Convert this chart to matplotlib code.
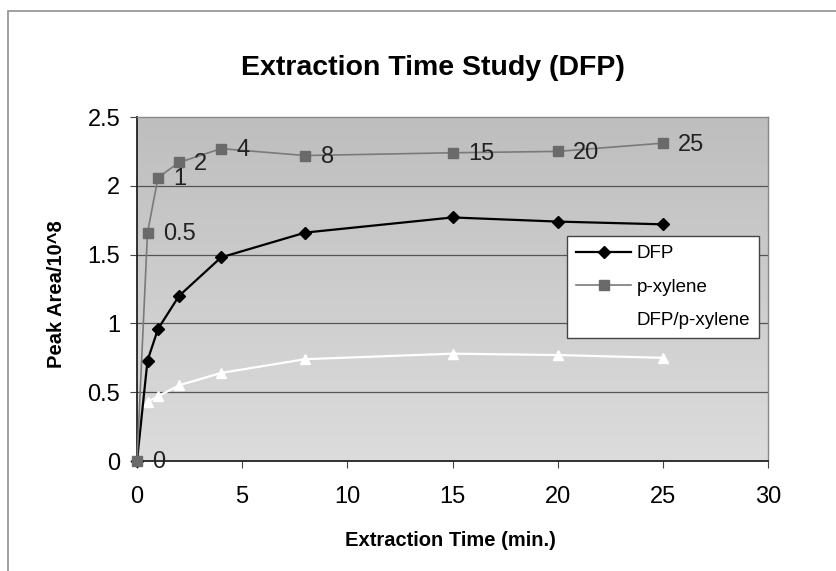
import matplotlib
matplotlib.use("Agg")
import matplotlib.pyplot as plt
import numpy as np
from matplotlib.patches import Rectangle

plt.rcParams['font.family'] = ['Liberation Sans', 'DejaVu Sans']

time = [0, 0.5, 1, 2, 4, 8, 15, 20, 25]
dfp = [0, 0.73, 0.96, 1.20, 1.48, 1.66, 1.77, 1.74, 1.72]
pxylene = [0, 1.66, 2.06, 2.17, 2.27, 2.22, 2.24, 2.25, 2.31]
ratio_time = [0.5, 1, 2, 4, 8, 15, 20, 25]
ratio = [0.43, 0.47, 0.55, 0.64, 0.74, 0.78, 0.77, 0.75]
point_labels = ["0", "0.5", "1", "2", "4", "8", "15", "20", "25"]

fig = plt.figure(figsize=(8.36, 5.71), dpi=100)
fig.patch.set_facecolor('white')
fig.add_artist(Rectangle((8/836, -0.05), 1.0, 1 - 11/571 + 0.05, transform=fig.transFigure,
                         fill=False, edgecolor='#909090', linewidth=1.2))

ax = fig.add_axes([137/836, 1 - 461/571, (768 - 137)/836, (461 - 117)/571])
ax.set_xlim(0, 30)
ax.set_ylim(0, 2.5)

grad = np.linspace(0, 1, 256).reshape(-1, 1)
ax.imshow(grad, extent=[0, 30, 0, 2.5], aspect='auto', cmap=matplotlib.colors.LinearSegmentedColormap.from_list(
    'g', ['#dcdcdc', '#bebebe']), origin='lower', zorder=0)

for yv in [0.5, 1, 1.5, 2]:
    ax.axhline(yv, color='#555555', linewidth=0.9, zorder=1)

ax.plot(time, dfp, color='black', marker='D', markersize=6.5, linewidth=1.6, label='DFP', zorder=4,
        clip_on=False)
ax.plot(time, pxylene, color='#7a7a7a', marker='s', markersize=6.5, markerfacecolor='#6a6a6a',
        markeredgecolor='#6a6a6a', linewidth=1.2, label='p-xylene', zorder=5, clip_on=False)
ax.plot(ratio_time, ratio, color='white', marker='^', markersize=6.5, linewidth=1.6,
        label='DFP/p-xylene', zorder=3)

for xv, yv, lab in zip(time, pxylene, point_labels):
    ax.annotate(lab, (xv, yv), xytext=(11, -1), textcoords='offset points', ha='left', va='center',
                fontsize=17, color='#222222', zorder=6, annotation_clip=False)

ax.set_xticks([0, 5, 10, 15, 20, 25, 30])
ax.set_yticks([0, 0.5, 1, 1.5, 2, 2.5])
ax.set_yticklabels(['0', '0.5', '1', '1.5', '2', '2.5'])
ax.tick_params(axis='both', labelsize=17, direction='out', length=5, color='#444444', pad=7)
ax.tick_params(axis='x', pad=13)

for s in ['left', 'bottom']:
    ax.spines[s].set_color('#222222')
    ax.spines[s].set_linewidth(1.3)
for s in ['top', 'right']:
    ax.spines[s].set_color('#888888')
    ax.spines[s].set_linewidth(1.0)

fig.text(450/836, 1 - 540/571, 'Extraction Time (min.)', ha='center', va='center',
         fontsize=14.5, fontweight='bold')
fig.text(57/836, 1 - 294/571, 'Peak Area/10^8', ha='center', va='center', rotation=90,
         fontsize=14.5, fontweight='bold')
fig.text(433/836, 1 - 68/571, 'Extraction Time Study (DFP)', ha='center', va='center',
         fontsize=20.5, fontweight='bold')

leg = ax.legend(loc='upper left', bbox_to_anchor=((567 - 137)/631, (461 - 236)/344),
                fontsize=13.5, frameon=True, fancybox=False, edgecolor='#444444',
                handlelength=2.9, labelspacing=0.85, borderpad=0.5, handletextpad=0.3,
                borderaxespad=0)
leg.get_frame().set_linewidth(1.0)
leg.get_frame().set_facecolor('white')
leg.get_frame().set_alpha(1)

fig.savefig('out.png', dpi=100)
